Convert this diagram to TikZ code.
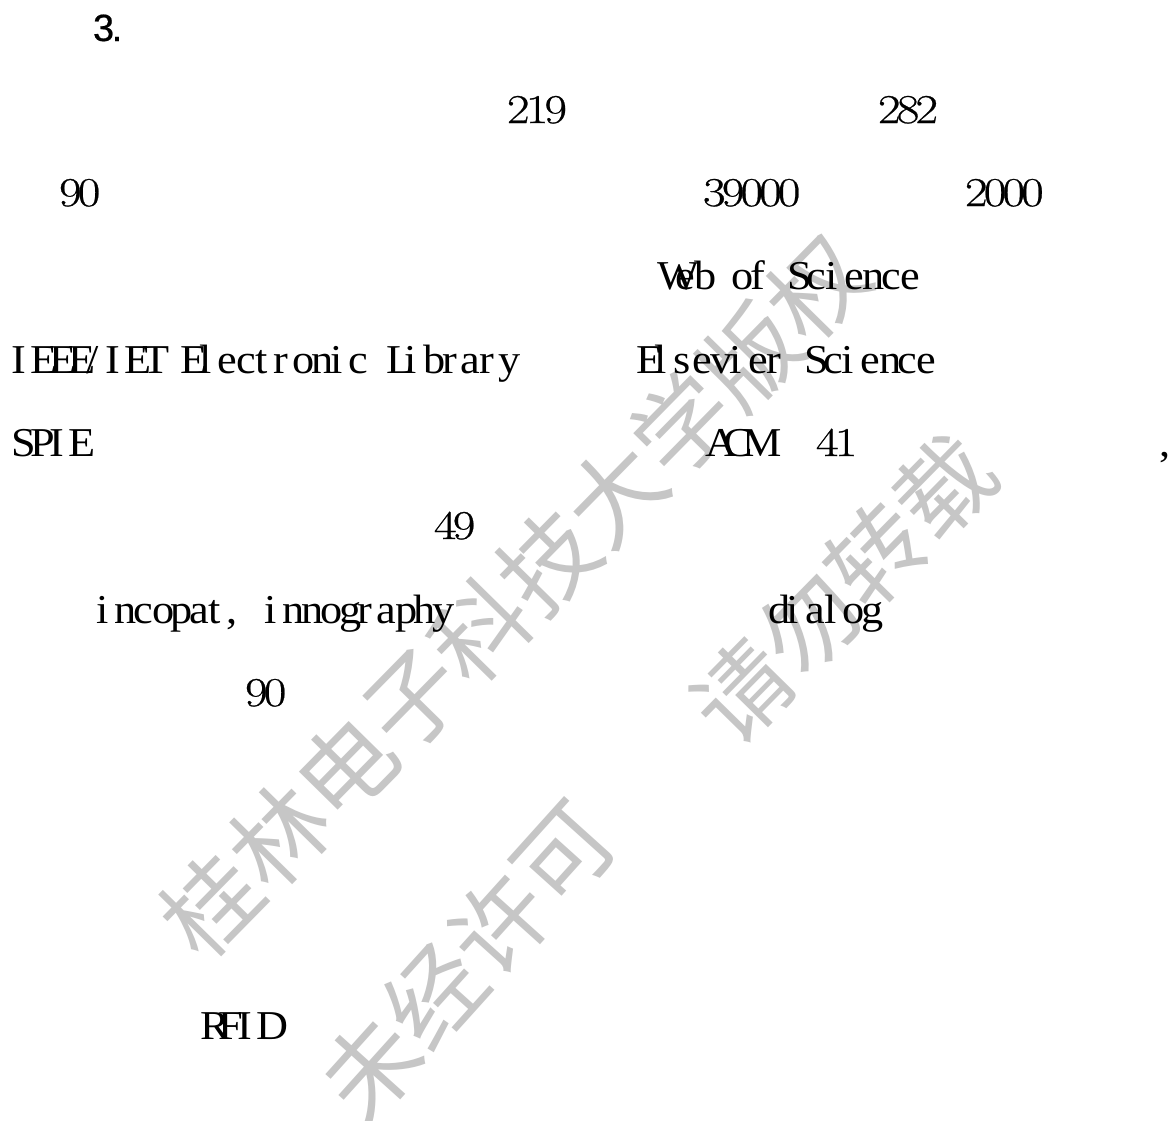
\documentclass[tikz,border=0pt]{standalone}
\usepackage{fontspec}
\setmainfont{Liberation Serif}[FakeStretch=1.08]
\newfontfamily\cjkwm{Noto Sans CJK SC}
\newfontfamily\digitwide{Latin Modern Roman}[FakeStretch=1.2,FakeBold=0.6]
\newfontfamily\headsans{Liberation Sans}[FakeBold=0.5]
\newcommand{\cellmono}[1]{\cellnext#1\relax}
\def\cellnext#1{\ifx#1\relax\else\makebox[18.7pt][l]{#1}\expandafter\cellnext\fi}
\definecolor{wm}{RGB}{198,198,198}
\tikzset{
  x=1pt,y=-1pt,
  linetext/.style={anchor=base west,inner sep=0pt,outer sep=0pt,font=\fontsize{41}{41}\selectfont,text=black},
  numtext/.style={linetext,font=\digitwide\fontsize{41}{41}\selectfont},
  wmark/.style={inner sep=0pt,outer sep=0pt,text=wm,font=\cjkwm\fontsize{96}{96}\selectfont}
}
\begin{document}
\begin{tikzpicture}
\useasboundingbox[fill=white] (0,0) rectangle (1175,1120);
\node[wmark,rotate=45.5] (wa) at (514,596) {桂林电子科技大学版权};
\node[wmark,rotate=45.5] (wb) at (843,589) {请勿转载};
\node[wmark,rotate=48] (wc) at (467,960) {未经许可};
\node[linetext,font=\headsans\fontsize{38}{38}\selectfont] (t1) at (93,41) {\cellmono{3.}};
\node[numtext] (t2) at (507,123) {\cellmono{219}};
\node[numtext] (t3) at (878,123) {\cellmono{282}};
\node[numtext] (t4) at (59,206) {\cellmono{90}};
\node[numtext] (t5) at (703,206) {\cellmono{39000}};
\node[numtext] (t6) at (965,206) {\cellmono{2000}};
\node[linetext] (t7) at (657,289) {\cellmono{Web~of~Science}};
\node[linetext] (t8) at (12,373) {\cellmono{IEEE/IET~Electronic~Library}};
\node[linetext] (t9) at (636,373) {\cellmono{Elsevier~Science}};
\node[linetext] (t10) at (12,456) {\cellmono{SPIE}};
\node[linetext] (t11) at (705,456) {\cellmono{ACM}};
\node[numtext] (t12) at (816,456) {\cellmono{41}};
\node[linetext] (t13) at (1159,456) {\cellmono{,}};
\node[numtext] (t14) at (434,539) {\cellmono{49}};
\node[linetext] (t15) at (96,623) {\cellmono{incopat,~innography}};
\node[linetext] (t16) at (768,623) {\cellmono{dialog}};
\node[numtext] (t17) at (245,706) {\cellmono{90}};
\node[linetext] (t18) at (200,1039) {\cellmono{RFID}};
\end{tikzpicture}
\end{document}
